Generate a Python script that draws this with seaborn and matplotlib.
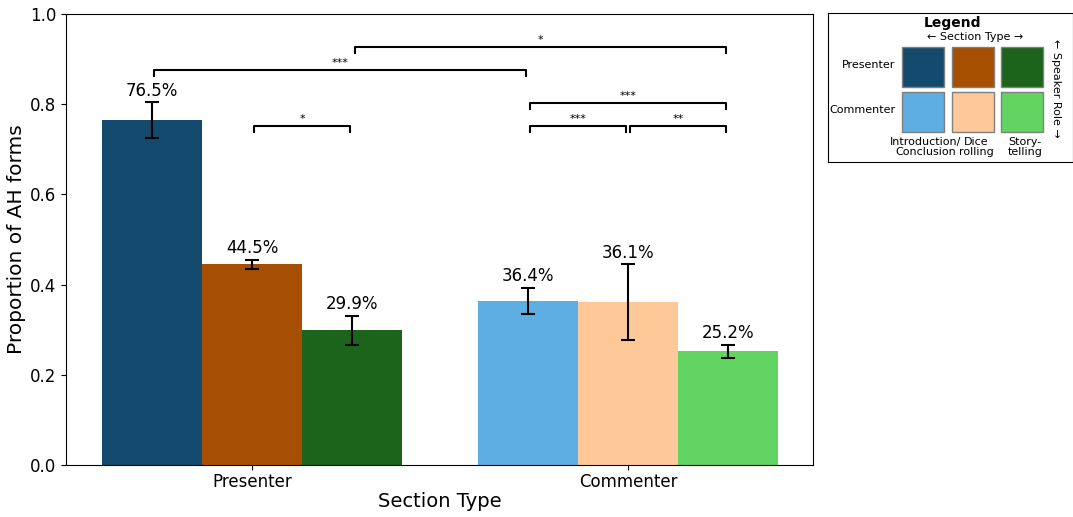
import pandas as pd
import matplotlib.pyplot as plt
import matplotlib.patches as mpatches
import seaborn as sns

# --- Data ---
roles = ['Presenter', 'Commenter']
sections = ['Introduction/\nConclusion', 'Dice\nrolling', 'Story-\ntelling']
presenter_vals = [0.765, 0.445, 0.299]
commenter_vals = [0.364, 0.361, 0.252]
presenter_err = [0.039, 0.010, 0.032]
commenter_err = [0.029, 0.084, 0.015]
presenter_colors = ['#154a6f', '#a64f02', '#1c631b']
commenter_colors = ['#5eaee4', '#fec899', '#62d462']

# significance brackets: (role_a, section_a, role_b, section_b, y, label)
brackets = [
    (0, 2, 1, 2, 0.927, '*'),
    (0, 0, 1, 0, 0.876, '***'),
    (0, 1, 0, 2, 0.752, '*'),
    (1, 0, 1, 2, 0.803, '***'),
    (1, 0, 1, 1, 0.752, '***'),
    (1, 1, 1, 2, 0.752, '**'),
]

rows = []
for i, s in enumerate(sections):
    rows.append({'role': roles[0], 'section': s, 'prop': presenter_vals[i]})
    rows.append({'role': roles[1], 'section': s, 'prop': commenter_vals[i]})
df = pd.DataFrame(rows)

fig = plt.figure(figsize=(10.73, 5.17), dpi=100)
ax = fig.add_axes([0.0615, 0.1006, 0.6962, 0.8724])

sns.barplot(data=df, x='role', y='prop', hue='section', order=roles,
            hue_order=sections, errorbar=None, legend=False, ax=ax, width=0.8)

vals = [presenter_vals, commenter_vals]
errs = [presenter_err, commenter_err]
cols = [presenter_colors, commenter_colors]

# patches are ordered by hue level, then by x
centers = {}
for k, patch in enumerate(ax.patches):
    s_idx, r_idx = divmod(k, 2)
    patch.set_facecolor(cols[r_idx][s_idx])
    patch.set_edgecolor('none')
    cx = patch.get_x() + patch.get_width() / 2
    centers[(r_idx, s_idx)] = cx
    v, e = vals[r_idx][s_idx], errs[r_idx][s_idx]
    ax.errorbar(cx, v, yerr=e, color='black', capsize=5, lw=1.5, capthick=1.5)
    ax.text(cx, v + e + 0.006, f'{v * 100:.1f}%', ha='center', va='bottom', fontsize=12)

for ra, sa, rb, sb, y, lab in brackets:
    x1 = centers[(ra, sa)] + 0.006
    x2 = centers[(rb, sb)] - 0.006
    h = 0.013
    ax.plot([x1, x1, x2, x2], [y - h, y, y, y - h], color='black', lw=1.5)
    ax.text((x1 + x2) / 2, y + 0.004, lab, ha='center', va='bottom', fontsize=8)

ax.set_ylim(0, 1.0)
ax.set_xlim(-0.495, 1.492)
ax.set_xlabel('Section Type', fontsize=14, labelpad=1)
ax.set_ylabel('Proportion of AH forms', fontsize=14.5, labelpad=3)
ax.tick_params(axis='both', labelsize=12)
ax.tick_params(axis='x', pad=2)

# --- Custom legend grid ---
lax = fig.add_axes([0.7717, 0.6867, 0.2283, 0.288])
lax.set_xlim(0, 245)
lax.set_ylim(149, 0)
lax.set_xticks([])
lax.set_yticks([])
lax.text(124, 10, 'Legend', ha='center', va='center', fontsize=10, fontweight='bold')
lax.text(147, 24, '← Section Type →', ha='center', va='center', fontsize=8)
box_x = [74, 124, 173]
box_y = [34, 79]
for r in range(2):
    for s in range(3):
        lax.add_patch(mpatches.Rectangle((box_x[s], box_y[r]), 42, 40,
                                         facecolor=cols[r][s], edgecolor='gray', lw=1))
    lax.text(67, box_y[r] + 18, roles[r], ha='right', va='center', fontsize=8)
for s in range(3):
    lax.text(box_x[s] + 24, 134, sections[s], ha='center', va='center', fontsize=8,
             linespacing=1.1)
lax.text(228, 75, '← Speaker Role →', ha='center', va='center', fontsize=8, rotation=270)

fig.savefig('out.png', dpi=100)
